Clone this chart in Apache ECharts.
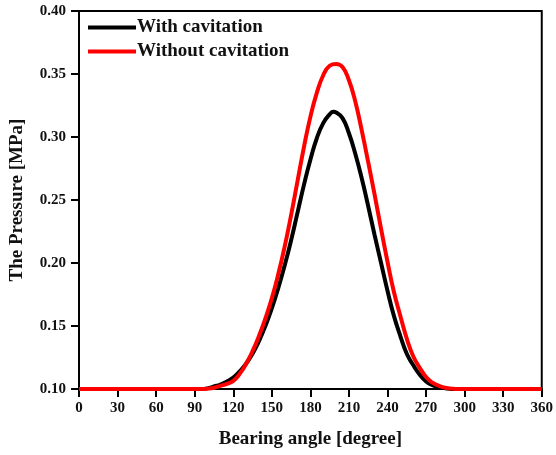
<!DOCTYPE html>
<html>
<head>
<meta charset="utf-8">
<script src="https://cdn.jsdelivr.net/npm/echarts@6/dist/echarts.min.js"></script>
<style>
html,body{margin:0;padding:0;background:#fff;}
#chart{width:556px;height:455px;}
</style>
</head>
<body>
<div id="chart"></div>
<script>
// ---- data ----
var seriesNames = ['With cavitation', 'Without cavitation'];
var withAngle = [0, 60, 90, 95, 100, 105, 110, 115, 120, 125, 130, 135, 140, 145, 150, 155, 160, 165, 170, 175, 180, 185, 190, 195, 198, 200, 205, 210, 215, 220, 225, 230, 235, 240, 245, 250, 255, 260, 265, 270, 275, 280, 285, 290, 300, 360];
var withPressure = [0.100, 0.100, 0.100, 0.100, 0.1005, 0.102, 0.1035, 0.106, 0.109, 0.114, 0.120, 0.128, 0.138, 0.150, 0.164, 0.180, 0.198, 0.218, 0.240, 0.262, 0.282, 0.299, 0.311, 0.318, 0.320, 0.3195, 0.315, 0.303, 0.2865, 0.267, 0.245, 0.222, 0.2, 0.178, 0.158, 0.142, 0.128, 0.119, 0.1115, 0.106, 0.103, 0.1015, 0.1005, 0.100, 0.100, 0.100];
var withoutAngle = [0, 60, 90, 95, 100, 105, 110, 115, 120, 125, 130, 135, 140, 145, 150, 155, 160, 165, 170, 175, 180, 185, 190, 195, 200, 205, 210, 215, 220, 225, 230, 235, 240, 245, 250, 255, 260, 265, 270, 275, 280, 285, 290, 295, 300, 360];
var withoutPressure = [0.100, 0.100, 0.100, 0.100, 0.1003, 0.101, 0.1025, 0.104, 0.1065, 0.112, 0.120, 0.130, 0.142, 0.156, 0.172, 0.191, 0.213, 0.238, 0.265, 0.292, 0.316, 0.335, 0.349, 0.3565, 0.358, 0.3555, 0.345, 0.328, 0.305, 0.280, 0.254, 0.227, 0.201, 0.177, 0.158, 0.140, 0.126, 0.117, 0.1095, 0.105, 0.1025, 0.101, 0.1003, 0.100, 0.100, 0.100];
var xTicks = [0, 30, 60, 90, 120, 150, 180, 210, 240, 270, 300, 330, 360];
var yTicks = [0.10, 0.15, 0.20, 0.25, 0.30, 0.35, 0.40];

function pairs(a, b) { return a.map(function (v, i) { return [v, b[i]]; }); }

var font = 'Liberation Serif';
var chart = echarts.init(document.getElementById('chart'), null, {renderer: 'canvas'});
chart.setOption({
  animation: false,
  backgroundColor: '#fff',
  grid: {left: 79, right: 11, top: 11, bottom: 66, show: true, borderColor: '#000', borderWidth: 2, backgroundColor: 'transparent'},
  legend: {
    orient: 'vertical', left: 83, top: 13, itemGap: 5, itemWidth: 48, itemHeight: 4,
    icon: 'rect',
    data: seriesNames,
    textStyle: {fontFamily: font, fontWeight: 'bold', fontSize: 19, color: '#111', padding: [0, 0, 0, -4]}
  },
  xAxis: {
    type: 'value', min: xTicks[0], max: xTicks[xTicks.length - 1], interval: 30,
    name: 'Bearing angle [degree]', nameLocation: 'middle', nameGap: 41,
    nameTextStyle: {fontFamily: font, fontWeight: 'bold', fontSize: 19, color: '#111'},
    axisLine: {show: true, onZero: false, lineStyle: {color: '#000', width: 2}},
    axisTick: {show: true, inside: false, length: 8, lineStyle: {color: '#000', width: 2}},
    axisLabel: {fontFamily: font, fontWeight: 'bold', fontSize: 15, color: '#111', margin: 12},
    splitLine: {show: false}
  },
  yAxis: {
    type: 'value', min: yTicks[0], max: yTicks[yTicks.length - 1], interval: 0.05,
    name: 'The Pressure [MPa]', nameLocation: 'middle', nameGap: 52, nameRotate: 90,
    nameTextStyle: {fontFamily: font, fontWeight: 'bold', fontSize: 19, color: '#111'},
    axisLine: {show: true, onZero: false, lineStyle: {color: '#000', width: 2}},
    axisTick: {show: true, inside: false, length: 8, lineStyle: {color: '#000', width: 2}},
    axisLabel: {fontFamily: font, fontWeight: 'bold', fontSize: 15, color: '#111', margin: 13,
      formatter: function (v) { return v.toFixed(2); }},
    splitLine: {show: false}
  },
  series: [
    {name: seriesNames[0], type: 'line', data: pairs(withAngle, withPressure), smooth: 0.5, symbol: 'none',
      lineStyle: {color: '#000', width: 4}, itemStyle: {color: '#000'}},
    {name: seriesNames[1], type: 'line', data: pairs(withoutAngle, withoutPressure), smooth: 0.5, symbol: 'none',
      lineStyle: {color: '#ff0000', width: 4}, itemStyle: {color: '#ff0000'}}
  ]
});
</script>
</body>
</html>
